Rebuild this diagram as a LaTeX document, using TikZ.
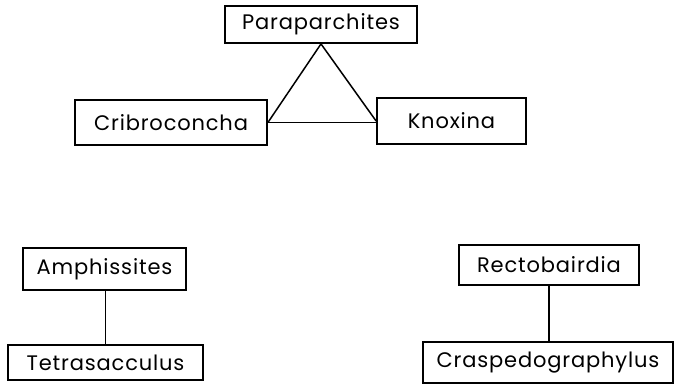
\documentclass[tikz,border=0pt]{standalone}
\usepackage{fontspec}
\setmainfont[LetterSpace=4]{Poppins}
\usepackage{tikz}

\begin{document}
\begin{tikzpicture}[x=1pt,y=-1pt,
		taxon/.style={draw,line width=1.8pt,inner sep=0pt,font=\fontsize{21}{24}\selectfont},
		link/.style={line width=1.5pt}]
		\useasboundingbox (0,0) rectangle (674,391);

		\node[taxon,minimum width=192,minimum height=37] (para) at (321,24.5) {Paraparchites};
		\node[taxon,minimum width=192,minimum height=45] (cribro) at (171,122.5) {Cribroconcha};
		\node[taxon,minimum width=149,minimum height=46] (knox) at (451.5,121) {Knoxina};

		\draw[link] (para.south) -- (cribro.east);
		\draw[link] (para.south) -- (knox.west);
		\draw[link] (cribro.east) -- (cribro.east -| knox.west);

		\node[taxon,minimum width=163,minimum height=42] (amph) at (104.5,269) {Amphissites};
		\node[taxon,minimum width=195,minimum height=35] (tetra) at (105.5,362.5) {Tetrasacculus};
		\draw[link] (tetra.north |- amph.south) -- (tetra.north);

		\node[taxon,minimum width=180,minimum height=40] (recto) at (549,265) {Rectobairdia};
		\node[taxon,minimum width=250,minimum height=41] (crasp) at (548,362.5) {Craspedographylus};
		\draw[link] (recto.south) -- (recto.south |- crasp.north);
	\end{tikzpicture}
\end{document}
